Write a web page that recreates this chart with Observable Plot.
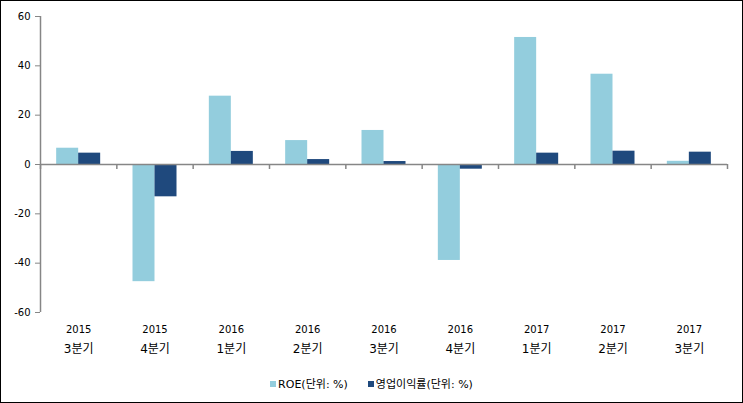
<!DOCTYPE html>
<html><head><meta charset="utf-8">
<script src="https://cdn.jsdelivr.net/npm/d3@7"></script>
<script src="https://cdn.jsdelivr.net/npm/@observablehq/plot@0.6"></script>
<style>
html,body{margin:0;padding:0;background:#fff;}
#wrap{position:relative;width:743px;height:403px;box-sizing:border-box;border:1px solid #000;font-family:"DejaVu Sans","Noto Sans CJK KR",sans-serif;}
#legend{position:absolute;left:0;top:374px;width:100%;text-align:center;font-size:11px;color:#000;white-space:nowrap;}
#legend .sw{display:inline-block;width:6px;height:6px;margin-right:2px;vertical-align:1px;}
#legend .item{margin:0 10px;}
</style>
</head><body>
<div id="wrap"><div id="chart"></div><div id="legend"></div></div>
<script>
const years = ["2015","2015","2016","2016","2016","2016","2017","2017","2017"];
const quarters = ["3분기","4분기","1분기","2분기","3분기","4분기","1분기","2분기","3분기"];
const roe = [6.6, -47.5, 27.7, 9.7, 13.8, -38.9, 51.5, 36.6, 1.3];
const opm = [4.6, -13.1, 5.3, 2.0, 1.2, -1.9, 4.6, 5.4, 5.0];
const yTicks = [-60, -40, -20, 0, 20, 40, 60];
const seriesNames = ["ROE(단위: %)", "영업이익률(단위: %)"];
const colors = ["#93CDDD", "#1F497D"];

const cats = years.map((y, i) => y + " " + quarters[i]);
const rows = cats.map((c, i) => ({cat: c, year: years[i], quarter: quarters[i], roe: roe[i], opm: opm[i]}));

const W = 741, ml = 39, mr = 15;
const bw = (W - ml - mr) / cats.length;
const barW = 22;
const outer = (bw - 2 * barW) / 2;
const axisColor = "#868686";

const chart = Plot.plot({
  width: W, height: 362,
  marginLeft: ml, marginRight: mr, marginTop: 15, marginBottom: 51,
  style: {fontFamily: '"DejaVu Sans","Noto Sans CJK KR",sans-serif', fontSize: "10px", color: "#000", background: "#fff"},
  x: {type: "band", domain: cats, padding: 0, round: false, axis: null},
  y: {domain: [-60, 60], axis: null},
  marks: [
    Plot.barY(rows, {x: "cat", y: "roe", fill: colors[0], insetLeft: outer, insetRight: outer + barW}),
    Plot.barY(rows, {x: "cat", y: "opm", fill: colors[1], insetLeft: outer + barW, insetRight: outer}),
    Plot.ruleY([0], {stroke: axisColor, strokeWidth: 1.5}),
    Plot.ruleX(cats, {x: d => d, y1: 0, y2: 0, insetBottom: -5, dx: -bw / 2, stroke: axisColor, strokeWidth: 1.5}),
    Plot.ruleX([cats[cats.length - 1]], {x: d => d, y1: 0, y2: 0, insetBottom: -5, dx: bw / 2, stroke: axisColor, strokeWidth: 1.5}),
    Plot.ruleX([cats[0]], {x: d => d, y1: -60, y2: 60, dx: -bw / 2, stroke: axisColor, strokeWidth: 1.5}),
    Plot.axisY({ticks: yTicks, tickSize: 5, tickPadding: 5, stroke: axisColor, fill: "#000", tickFormat: d => String(d)}),
    Plot.text(rows, {x: "cat", frameAnchor: "bottom", text: "year", dy: 20, fill: "#000"}),
    Plot.text(rows, {x: "cat", frameAnchor: "bottom", text: "quarter", dy: 40, fill: "#000", fontSize: 12})
  ]
});
document.getElementById("chart").appendChild(chart);

const legend = document.getElementById("legend");
seriesNames.forEach((n, i) => {
  const s = document.createElement("span");
  s.className = "item";
  s.innerHTML = `<span class="sw" style="background:${colors[i]}"></span>${n}`;
  legend.appendChild(s);
});
</script>
</body></html>
